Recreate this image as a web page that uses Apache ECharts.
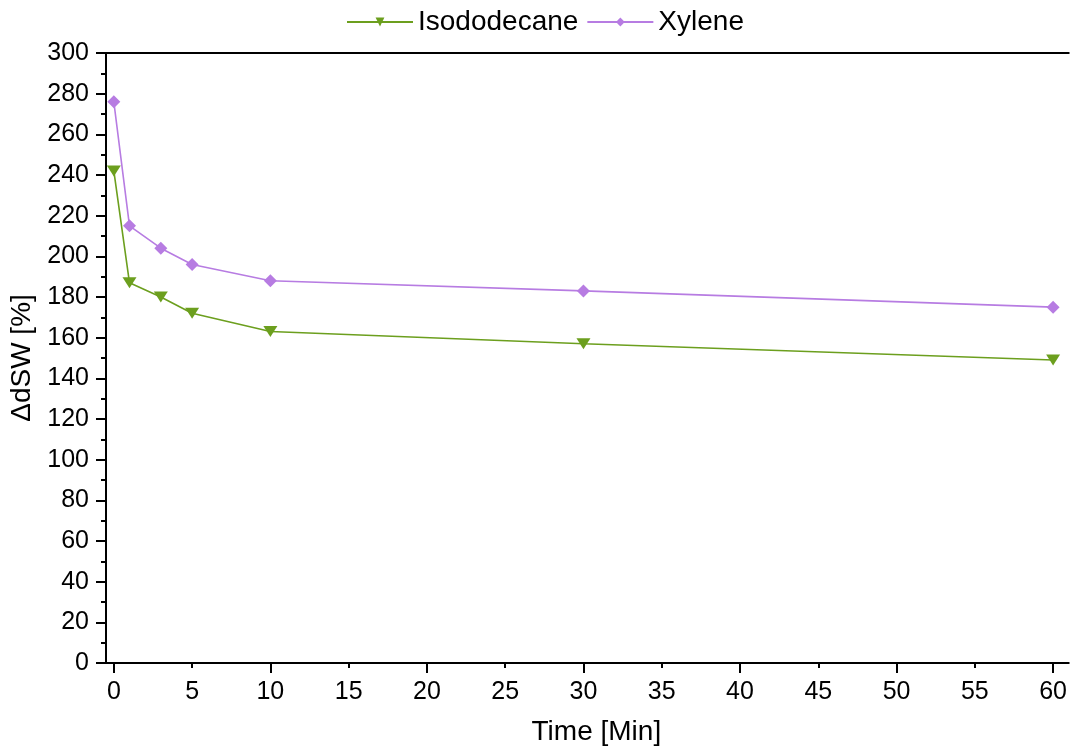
<!DOCTYPE html>
<html>
<head>
<meta charset="utf-8">
<script src="https://cdn.jsdelivr.net/npm/echarts@6/dist/echarts.min.js"></script>
<style>
  html, body { margin: 0; padding: 0; background: #fff; }
  #chart { width: 1070px; height: 751px; }
</style>
</head>
<body>
<div id="chart"></div>
<script>
// Swelling (ΔdSW) over time for two solvents
const times = [0, 1, 3, 5, 10, 30, 60];
const isododecane = [242, 187, 180, 172, 163, 157, 149];
const xylene = [276, 215, 204, 196, 188, 183, 175];

// x-axis: labels every 5 min, long ticks every 10, short ticks in between
const xLabelValues = [0, 5, 10, 15, 20, 25, 30, 35, 40, 45, 50, 55, 60];
const xMajorTicks = [0, 10, 20, 30, 40, 50, 60];
const xMinorTicks = [5, 15, 25, 35, 45, 55];

const FONT = '"Liberation Sans", Arial, sans-serif';
const GREEN = '#6c9f1e';
const PURPLE = '#b77ce2';
const X_MIN = -0.5, X_MAX = 61;

const pairs = (ys) => times.map((t, i) => [t, ys[i]]);

const chart = echarts.init(document.getElementById('chart'));
chart.setOption({
  animation: false,
  backgroundColor: '#fff',
  textStyle: { fontFamily: FONT, color: '#000' },
  legend: {
    top: 3,
    left: 341,
    itemWidth: 66,
    itemHeight: 11,
    itemGap: 8,
    textStyle: { fontFamily: FONT, fontSize: 28, color: '#000' },
    data: ['Isododecane', 'Xylene']
  },
  grid: { left: 106, right: 0, top: 53, bottom: 86, containLabel: false },
  xAxis: [
    {
      type: 'value', min: X_MIN, max: X_MAX, position: 'bottom',
      name: 'Time [Min]', nameLocation: 'middle', nameGap: 55,
      nameTextStyle: { fontFamily: FONT, fontSize: 28, color: '#000', padding: [0, 0, 0, 18] },
      axisLine: { show: true, onZero: false, lineStyle: { color: '#000', width: 2 } },
      axisTick: { show: true, length: 10, lineStyle: { color: '#000', width: 2 }, customValues: xMajorTicks },
      axisLabel: { fontFamily: FONT, fontSize: 25, color: '#000', margin: 17, customValues: xLabelValues },
      splitLine: { show: false }
    },
    {
      type: 'value', min: X_MIN, max: X_MAX, position: 'bottom',
      axisLine: { show: false },
      axisTick: { show: true, length: 5, lineStyle: { color: '#000', width: 2 }, customValues: xMinorTicks },
      axisLabel: { show: false },
      splitLine: { show: false }
    },
    {
      type: 'value', min: X_MIN, max: X_MAX, position: 'top',
      axisLine: { show: true, onZero: false, lineStyle: { color: '#000', width: 2 } },
      axisTick: { show: false },
      axisLabel: { show: false },
      splitLine: { show: false }
    }
  ],
  yAxis: {
    type: 'value', min: 0, max: 300, interval: 20,
    name: 'ΔdSW [%]', nameLocation: 'middle', nameGap: 59, nameRotate: 90,
    nameTextStyle: { fontFamily: FONT, fontSize: 28, color: '#000' },
    axisLine: { show: true, onZero: false, lineStyle: { color: '#000', width: 2 } },
    axisTick: { show: true, length: 10, lineStyle: { color: '#000', width: 2 } },
    minorTick: { show: true, splitNumber: 2, length: 5, lineStyle: { color: '#000', width: 2 } },
    axisLabel: { fontFamily: FONT, fontSize: 25, color: '#000', margin: 17 },
    splitLine: { show: false }
  },
  series: [
    {
      name: 'Isododecane', type: 'line', xAxisIndex: 0,
      data: pairs(isododecane),
      symbol: 'triangle', symbolRotate: 180, symbolSize: [14, 11],
      lineStyle: { color: GREEN, width: 1.6 },
      itemStyle: { color: GREEN },
      z: 3
    },
    {
      name: 'Xylene', type: 'line', xAxisIndex: 0,
      data: pairs(xylene),
      symbol: 'diamond', symbolSize: 13,
      lineStyle: { color: PURPLE, width: 1.6 },
      itemStyle: { color: PURPLE },
      z: 2
    }
  ]
});
</script>
</body>
</html>
